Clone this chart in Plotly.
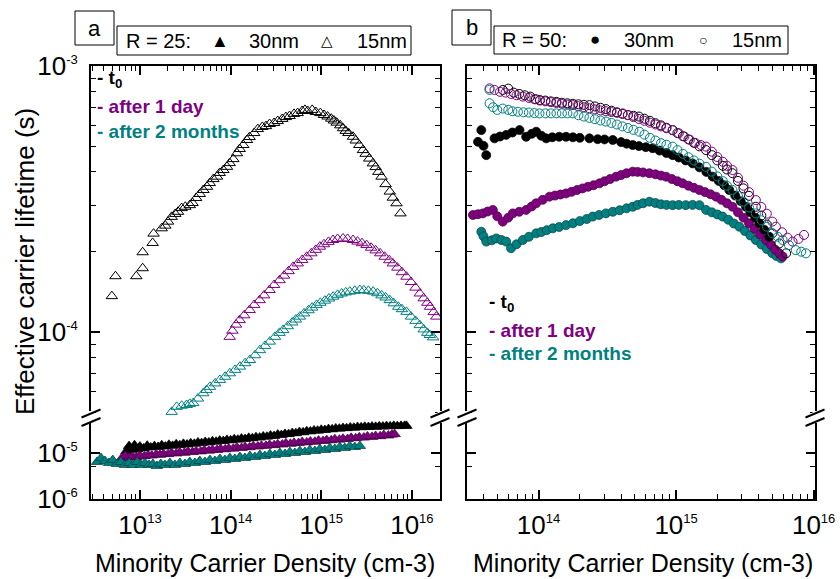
import numpy as np
import plotly.graph_objects as go

# ---------------- data: (log10 n [cm-3], log10 tau [s]) ----------------
# Panel a  (R = 25) -- 15 nm, open triangles
a15_t0 = [(12.69,-3.865),(12.73,-3.79),(12.96,-3.79),(13.03,-3.76),(13.03,-3.70),(13.14,-3.665),(13.15,-3.63),
          (13.24,-3.61),(13.28,-3.60),(13.31,-3.585),(13.35,-3.567),(13.39,-3.556),(13.42,-3.548),(13.46,-3.534),
          (13.50,-3.529),(13.55,-3.523),(13.58,-3.515),(13.62,-3.496),(13.66,-3.481),(13.70,-3.466),(13.74,-3.454),
          (13.77,-3.44),(13.81,-3.425),(13.85,-3.416),(13.88,-3.402),(13.92,-3.391),(13.96,-3.379),(13.99,-3.365),
          (14.03,-3.35),(14.07,-3.328),(14.10,-3.312),(14.14,-3.297),(14.18,-3.278),(14.21,-3.267),(14.26,-3.252),
          (14.30,-3.237),(14.35,-3.229),(14.39,-3.226),(14.43,-3.218),(14.48,-3.214),(14.52,-3.207),(14.57,-3.199),
          (14.61,-3.192),(14.65,-3.188),(14.70,-3.18),(14.74,-3.177),(14.79,-3.169),(14.82,-3.165),(14.85,-3.169),
          (14.90,-3.165),(14.94,-3.173),(14.99,-3.177),(15.03,-3.184),(15.07,-3.19),(15.11,-3.198),(15.14,-3.205),
          (15.17,-3.213),(15.21,-3.223),(15.24,-3.234),(15.27,-3.244),(15.30,-3.252),(15.35,-3.266),(15.38,-3.28),
          (15.42,-3.297),(15.46,-3.316),(15.49,-3.33),(15.53,-3.348),(15.57,-3.366),(15.60,-3.38),(15.63,-3.398),
          (15.665,-3.416),(15.71,-3.444),(15.756,-3.472),(15.79,-3.495),(15.83,-3.516),(15.874,-3.554)]
a15_1d = [(13.99,-4.018),(14.02,-3.995),(14.06,-3.972),(14.10,-3.955),(14.15,-3.937),(14.21,-3.917),(14.26,-3.898),
          (14.32,-3.88),(14.37,-3.862),(14.43,-3.842),(14.48,-3.823),(14.54,-3.805),(14.59,-3.788),(14.64,-3.771),
          (14.69,-3.755),(14.74,-3.742),(14.79,-3.729),(14.84,-3.717),(14.89,-3.704),(14.94,-3.691),(14.985,-3.679),
          (15.03,-3.67),(15.08,-3.661),(15.13,-3.654),(15.18,-3.65),(15.24,-3.648),(15.29,-3.65),(15.35,-3.654),
          (15.40,-3.66),(15.45,-3.666),(15.50,-3.673),(15.55,-3.683),(15.60,-3.693),(15.65,-3.704),(15.70,-3.717),
          (15.75,-3.73),(15.79,-3.742),(15.84,-3.758),(15.89,-3.775),(15.94,-3.792),(15.99,-3.812),(16.04,-3.833),
          (16.087,-3.855),(16.13,-3.873),(16.17,-3.89),(16.20,-3.905),(16.24,-3.925),(16.27,-3.942)]
a15_2m = [(13.35,-4.30),(13.37,-4.343),(13.405,-4.281),(13.46,-4.277),(13.515,-4.274),(13.55,-4.27),(13.588,-4.267),
          (13.64,-4.25),(13.698,-4.23),(13.735,-4.218),(13.772,-4.206),(13.83,-4.193),(13.882,-4.18),(13.94,-4.168),
          (13.992,-4.155),(14.05,-4.142),(14.103,-4.13),(14.16,-4.117),(14.213,-4.105),(14.27,-4.087),(14.323,-4.068),
          (14.38,-4.052),(14.433,-4.036),(14.49,-4.018),(14.54,-4.003),(14.58,-3.992),(14.63,-3.978),(14.68,-3.964),
          (14.72,-3.953),(14.764,-3.942),(14.81,-3.93),(14.86,-3.918),(14.90,-3.908),(14.948,-3.898),(14.99,-3.89),
          (15.04,-3.882),(15.085,-3.874),(15.131,-3.867),(15.18,-3.86),(15.225,-3.855),(15.27,-3.851),(15.315,-3.848),
          (15.37,-3.845),(15.426,-3.842),(15.47,-3.843),(15.52,-3.845),(15.572,-3.848),(15.62,-3.854),(15.665,-3.862),
          (15.71,-3.87),(15.756,-3.88),(15.80,-3.892),(15.85,-3.905),(15.89,-3.914),(15.94,-3.924),(15.99,-3.942),
          (16.04,-3.958),(16.087,-3.974),(16.13,-3.99),(16.17,-4.003),(16.197,-4.011),(16.234,-4.02)]
# Panel a  (R = 25) -- 30 nm, filled triangles (lower segment)
a30_t0 = [(12.85,-4.96),(12.88,-4.85),(12.91,-4.93),(12.94,-4.83),(12.97,-4.92),(13.00,-4.86),(13.04,-4.90),
          (13.08,-4.84),(13.12,-4.88),(13.16,-4.85),(13.20,-4.87),(13.24,-4.83),(13.28,-4.86),(13.32,-4.82),
          (13.36,-4.845),(13.40,-4.81),(13.44,-4.83),(13.48,-4.80),(13.52,-4.815),(13.56,-4.79),(13.60,-4.80),
          (13.64,-4.77),(13.68,-4.785),(13.72,-4.76),(13.76,-4.77),(13.80,-4.745),(13.84,-4.755),(13.88,-4.73),
          (13.92,-4.74),(13.96,-4.715),(14.00,-4.725),(14.04,-4.70),(14.08,-4.71),(14.12,-4.685),(14.16,-4.695),
          (14.20,-4.67),(14.24,-4.68),(14.28,-4.655),(14.32,-4.665),(14.36,-4.64),(14.40,-4.645),(14.44,-4.62),
          (14.48,-4.63),(14.52,-4.60),(14.56,-4.61),(14.60,-4.585),(14.64,-4.59),(14.68,-4.565),(14.72,-4.57),
          (14.76,-4.545),(14.80,-4.55),(14.84,-4.525),(14.88,-4.53),(14.92,-4.51),(14.96,-4.515),(15.00,-4.495),
          (15.04,-4.50),(15.08,-4.48),(15.12,-4.485),(15.16,-4.465),(15.20,-4.47),(15.24,-4.455),(15.28,-4.46),
          (15.32,-4.445),(15.36,-4.45),(15.40,-4.435),(15.44,-4.44),(15.48,-4.43),(15.52,-4.435),(15.56,-4.425),
          (15.60,-4.43),(15.64,-4.42),(15.68,-4.425),(15.72,-4.415),(15.76,-4.42),(15.80,-4.41),(15.84,-4.415),
          (15.88,-4.41),(15.92,-4.41),(15.94,-4.41)]
a30_1d = [(12.80,-5.11),(12.84,-5.06),(12.88,-5.10),(12.92,-5.08),(12.96,-5.09),(13.00,-5.06),(13.05,-5.07),
          (13.09,-5.05),(13.13,-5.055),(13.18,-5.03),(13.22,-5.04),(13.26,-5.02),(13.31,-5.025),(13.35,-5.0),
          (13.40,-5.01),(13.44,-4.99),(13.49,-4.995),(13.53,-4.97),(13.58,-4.98),(13.62,-4.96),(13.67,-4.965),
          (13.71,-4.94),(13.76,-4.95),(13.80,-4.93),(13.85,-4.935),(13.89,-4.91),(13.94,-4.92),(13.98,-4.90),
          (14.03,-4.905),(14.07,-4.88),(14.12,-4.89),(14.16,-4.87),(14.21,-4.875),(14.25,-4.85),(14.30,-4.86),
          (14.34,-4.84),(14.39,-4.845),(14.43,-4.82),(14.48,-4.83),(14.52,-4.81),(14.57,-4.815),(14.61,-4.79),
          (14.66,-4.80),(14.70,-4.78),(14.75,-4.785),(14.79,-4.76),(14.84,-4.77),(14.88,-4.75),(14.93,-4.755),
          (14.97,-4.73),(15.02,-4.74),(15.06,-4.72),(15.11,-4.725),(15.15,-4.70),(15.20,-4.71),(15.24,-4.69),
          (15.29,-4.695),(15.33,-4.67),(15.38,-4.68),(15.42,-4.66),(15.47,-4.665),(15.51,-4.64),(15.56,-4.65),
          (15.60,-4.63),(15.65,-4.635),(15.69,-4.61),(15.74,-4.62),(15.78,-4.60),(15.81,-4.59)]
a30_2m = [(12.526,-5.196),(12.57,-5.109),(12.614,-5.174),(12.658,-5.217),(12.70,-5.152),(12.746,-5.239),
          (12.79,-5.196),(12.835,-5.26),(12.88,-5.217),(12.92,-5.26),(12.97,-5.196),(13.01,-5.26),(13.055,-5.217),
          (13.10,-5.26),(13.143,-5.239),(13.187,-5.283),(13.23,-5.239),(13.276,-5.26),(13.33,-5.217),(13.386,-5.26),
          (13.44,-5.217),(13.496,-5.239),(13.55,-5.196),(13.606,-5.217),(13.66,-5.174),(13.717,-5.196),(13.772,-5.152),
          (13.827,-5.174),(13.882,-5.13),(13.937,-5.152),(13.992,-5.109),(14.047,-5.13),(14.103,-5.087),(14.158,-5.109),
          (14.213,-5.065),(14.268,-5.087),(14.323,-5.043),(14.378,-5.065),(14.433,-5.022),(14.488,-5.043),(14.544,-5.0),
          (14.60,-5.022),(14.654,-4.978),(14.709,-5.0),(14.764,-4.957),(14.82,-4.978),(14.874,-4.935),(14.93,-4.957),
          (14.985,-4.913),(15.04,-4.935),(15.095,-4.891),(15.15,-4.913),(15.205,-4.87),(15.26,-4.891),(15.315,-4.848),
          (15.37,-4.87),(15.426,-4.848)]
# Panel b  (R = 50) -- 30 nm, filled circles
b30_t0 = [(13.584,-3.241),(13.56,-3.285),(13.62,-3.335),(13.60,-3.30),(13.68,-3.272),(13.72,-3.265),(13.765,-3.259),
          (13.81,-3.25),(13.862,-3.241),(13.91,-3.266),(13.95,-3.255),(13.983,-3.247),(14.02,-3.262),(14.056,-3.272),
          (14.10,-3.268),(14.15,-3.266),(14.20,-3.266),(14.25,-3.268),(14.30,-3.27),(14.37,-3.272),(14.43,-3.275),
          (14.48,-3.276),(14.54,-3.278),(14.60,-3.286),(14.64,-3.292),(14.685,-3.297),(14.73,-3.301),(14.78,-3.305),
          (14.83,-3.309),(14.88,-3.318),(14.93,-3.327),(14.975,-3.335),(15.02,-3.344),(15.07,-3.355),(15.12,-3.366),
          (15.17,-3.381),(15.22,-3.398),(15.266,-3.416),(15.31,-3.432),(15.35,-3.448),(15.387,-3.466),(15.43,-3.487),
          (15.47,-3.508),(15.508,-3.529),(15.54,-3.55),(15.575,-3.57),(15.605,-3.591),(15.64,-3.615),(15.678,-3.642)]
b30_1d = [(13.523,-3.56),(13.56,-3.557),(13.595,-3.554),(13.63,-3.547),(13.668,-3.541),(13.70,-3.565),(13.74,-3.585),
          (13.78,-3.57),(13.813,-3.554),(13.86,-3.548),(13.91,-3.541),(13.95,-3.528),(13.983,-3.516),(14.03,-3.503),
          (14.08,-3.491),(14.12,-3.487),(14.16,-3.483),(14.20,-3.479),(14.24,-3.473),(14.28,-3.466),(14.32,-3.46),
          (14.36,-3.454),(14.40,-3.448),(14.443,-3.441),(14.48,-3.433),(14.52,-3.425),(14.564,-3.416),(14.60,-3.41),
          (14.64,-3.403),(14.685,-3.397),(14.72,-3.398),(14.76,-3.40),(14.806,-3.403),(14.85,-3.407),(14.89,-3.412),
          (14.927,-3.416),(14.97,-3.425),(15.01,-3.433),(15.048,-3.441),(15.09,-3.45),(15.13,-3.458),(15.17,-3.466),
          (15.21,-3.474),(15.25,-3.482),(15.29,-3.491),(15.33,-3.503),(15.37,-3.516),(15.41,-3.529),(15.45,-3.55),
          (15.49,-3.57),(15.53,-3.591),(15.57,-3.612),(15.61,-3.633),(15.654,-3.654),(15.69,-3.672),(15.72,-3.69),
          (15.75,-3.704),(15.775,-3.716)]
b30_2m = [(13.584,-3.623),(13.60,-3.64),(13.62,-3.66),(13.66,-3.655),(13.693,-3.648),(13.73,-3.654),(13.765,-3.66),
          (13.80,-3.685),(13.84,-3.67),(13.886,-3.654),(13.93,-3.642),(13.983,-3.629),(14.02,-3.624),(14.06,-3.617),
          (14.104,-3.61),(14.15,-3.605),(14.20,-3.598),(14.25,-3.591),(14.30,-3.583),(14.35,-3.575),(14.394,-3.566),
          (14.44,-3.56),(14.49,-3.554),(14.54,-3.548),(14.59,-3.542),(14.64,-3.535),(14.685,-3.529),(14.72,-3.522),
          (14.76,-3.516),(14.806,-3.51),(14.85,-3.515),(14.89,-3.52),(14.93,-3.522),(14.975,-3.523),(15.02,-3.522),
          (15.07,-3.523),(15.12,-3.522),(15.17,-3.523),(15.218,-3.541),(15.26,-3.55),(15.30,-3.558),(15.338,-3.566),
          (15.38,-3.578),(15.42,-3.592),(15.46,-3.604),(15.50,-3.62),(15.54,-3.637),(15.58,-3.654),(15.62,-3.671),
          (15.66,-3.688),(15.70,-3.704),(15.73,-3.714),(15.763,-3.723)]
# Panel b  (R = 50) -- 15 nm, open circles
b15_t0 = [(13.74,-3.09),(13.78,-3.085),(13.82,-3.10),(13.86,-3.105),(13.90,-3.11),(13.94,-3.115),(13.98,-3.125),
          (14.01,-3.128),(14.05,-3.13),(14.09,-3.133),(14.13,-3.135),(14.17,-3.138),(14.21,-3.14),(14.25,-3.142),
          (14.29,-3.144),(14.33,-3.146),(14.37,-3.147),(14.41,-3.152),(14.45,-3.157),(14.49,-3.162),(14.53,-3.168),
          (14.57,-3.174),(14.61,-3.18),(14.65,-3.184),(14.69,-3.187),(14.73,-3.19),(14.77,-3.198),(14.81,-3.206),
          (14.85,-3.215),(14.89,-3.223),(14.93,-3.232),(14.975,-3.241),(15.01,-3.252),(15.05,-3.264),(15.09,-3.276),
          (15.13,-3.289),(15.17,-3.302),(15.218,-3.316),(15.26,-3.335),(15.30,-3.355),(15.34,-3.375),(15.37,-3.389),
          (15.41,-3.403),(15.45,-3.432),(15.49,-3.46),(15.53,-3.488),(15.58,-3.529),(15.62,-3.562),(15.66,-3.596),
          (15.70,-3.629),(15.75,-3.667),(15.80,-3.704)]
b15_1d = [(13.644,-3.084),(13.68,-3.09),(13.72,-3.097),(13.76,-3.10),(13.80,-3.105),(13.84,-3.11),(13.886,-3.115),
          (13.93,-3.12),(13.97,-3.125),(14.01,-3.13),(14.05,-3.133),(14.09,-3.136),(14.13,-3.139),(14.17,-3.142),
          (14.21,-3.145),(14.25,-3.147),(14.29,-3.151),(14.33,-3.155),(14.37,-3.159),(14.41,-3.163),(14.45,-3.167),
          (14.49,-3.17),(14.53,-3.173),(14.57,-3.176),(14.612,-3.178),(14.65,-3.185),(14.69,-3.192),(14.73,-3.199),
          (14.77,-3.206),(14.81,-3.213),(14.85,-3.22),(14.89,-3.227),(14.93,-3.234),(14.975,-3.241),(15.02,-3.253),
          (15.06,-3.265),(15.10,-3.277),(15.14,-3.289),(15.18,-3.297),(15.218,-3.303),(15.26,-3.322),(15.30,-3.342),
          (15.34,-3.36),(15.37,-3.375),(15.41,-3.391),(15.45,-3.42),(15.49,-3.45),(15.53,-3.474),(15.58,-3.504),
          (15.62,-3.53),(15.66,-3.555),(15.70,-3.585),(15.726,-3.604),(15.77,-3.625),(15.81,-3.645),(15.847,-3.66),
          (15.89,-3.65),(15.93,-3.635)]
b15_2m = [(13.644,-3.09),(13.644,-3.14),(13.67,-3.155),(13.70,-3.165),(13.74,-3.16),(13.78,-3.165),(13.81,-3.17),
          (13.85,-3.172),(13.89,-3.174),(13.93,-3.175),(13.97,-3.177),(14.007,-3.178),(14.05,-3.178),(14.09,-3.178),
          (14.13,-3.178),(14.17,-3.178),(14.21,-3.178),(14.25,-3.178),(14.29,-3.185),(14.33,-3.19),(14.37,-3.195),
          (14.41,-3.20),(14.45,-3.205),(14.49,-3.209),(14.53,-3.214),(14.57,-3.22),(14.61,-3.227),(14.65,-3.233),
          (14.69,-3.24),(14.733,-3.247),(14.77,-3.258),(14.81,-3.27),(14.85,-3.28),(14.89,-3.29),(14.93,-3.296),
          (14.975,-3.303),(15.01,-3.316),(15.05,-3.33),(15.09,-3.343),(15.13,-3.355),(15.17,-3.367),(15.218,-3.379),
          (15.26,-3.397),(15.30,-3.415),(15.34,-3.433),(15.37,-3.45),(15.41,-3.466),(15.45,-3.488),(15.49,-3.51),
          (15.53,-3.532),(15.58,-3.554),(15.62,-3.58),(15.66,-3.604),(15.70,-3.629),(15.74,-3.642),(15.775,-3.654),
          (15.82,-3.673),(15.87,-3.692),(15.91,-3.698),(15.944,-3.704)]

# tick values / exponents of the labels
x_ticks_a = [1e13, 1e14, 1e15, 1e16]
x_exp_a = ['13', '14', '15', '16']
x_ticks_b = [1e14, 1e15, 1e16]
x_exp_b = ['14', '15', '16']
y_ticks_up = [1e-4, 1e-3]
y_exp_up = ['-4', '-3']
y_ticks_lo = [1e-6, 1e-5]
y_exp_lo = ['-6', '-5']

# ---------------- styling / layout ----------------
W, H = 840, 579
def fx(p): return p / W
def fy(p): return 1 - p / H

FONT = 'Liberation Sans, Arial, sans-serif'
BLACK, PURPLE, TEAL = '#000000', '#800080', '#008080'
DARK = {BLACK: '#000000', PURPLE: '#3d003d', TEAL: '#003d3d'}

XA = (91, 440)
XB = (467, 815)
Y_TOP, Y_BRK, Y_BOT = 66, 418, 499
UP_RANGE = [-4.323, -3.0]
LO_RANGE = [-6.0, -4.239]
XA_RANGE = [12.46, 16.31]
XB_RANGE = [13.48, 16.01]

def pow_labels(exps):
    return ['10<sup><span style="font-size:13px">' + e + '</span></sup>' for e in exps]

def xy(pairs):
    arr = np.array(pairs, dtype=float)
    return 10 ** arr[:, 0], 10 ** arr[:, 1]

fig = go.Figure()

def add(pairs, xa, ya, color, kind):
    x, y = xy(pairs)
    if kind == 'tri_open':
        m = dict(symbol='triangle-up-open', size=10, color=color, line=dict(width=1, color=color))
    elif kind == 'tri':
        m = dict(symbol='triangle-up', size=10, color=color, line=dict(width=0.7, color=DARK[color]))
    elif kind == 'circ':
        m = dict(symbol='circle', size=9, color=color, line=dict(width=0.7, color=DARK[color]))
    else:
        m = dict(symbol='circle-open', size=9, color=color, line=dict(width=1, color=color))
    fig.add_trace(go.Scatter(x=x, y=y, mode='markers', marker=m, xaxis=xa, yaxis=ya,
                             showlegend=False, hoverinfo='skip'))

# panel a
add(a30_t0, 'x', 'y2', BLACK, 'tri')
add(a30_1d, 'x', 'y2', PURPLE, 'tri')
add(a30_2m, 'x', 'y2', TEAL, 'tri')
add(a15_t0, 'x2', 'y', BLACK, 'tri_open')
add(a15_1d, 'x2', 'y', PURPLE, 'tri_open')
add(a15_2m, 'x2', 'y', TEAL, 'tri_open')
# panel b (all data lie in the upper segment; the lower segment is empty)
fig.add_trace(go.Scatter(x=[], y=[], mode='markers', xaxis='x3', yaxis='y4', showlegend=False,
                         hoverinfo='skip'))
add(b30_2m, 'x4', 'y3', TEAL, 'circ')
add(b30_1d, 'x4', 'y3', PURPLE, 'circ')
add(b30_t0, 'x4', 'y3', BLACK, 'circ')
add(b15_t0, 'x4', 'y3', BLACK, 'circ_open')
add(b15_1d, 'x4', 'y3', PURPLE, 'circ_open')
add(b15_2m, 'x4', 'y3', TEAL, 'circ_open')

def minor_log(lo, hi):
    return [m * 10.0 ** d for d in range(lo, hi) for m in range(2, 10)]

base = dict(type='log', showline=True, linecolor='black', linewidth=2, ticks='inside', ticklen=9,
            tickwidth=1.5, tickcolor='black', showgrid=False, zeroline=False, automargin=False,
            tickfont=dict(family=FONT, size=26, color='black'))
minor_style = dict(ticks='inside', ticklen=5, tickwidth=1.2, tickcolor='black', showgrid=False)

up_dom = [fy(Y_BRK), fy(Y_TOP)]
lo_dom = [fy(Y_BOT), fy(Y_BRK)]

fig.update_layout(
    template='none',
    width=W, height=H, margin=dict(l=0, r=0, t=0, b=0, pad=0), autosize=False,
    paper_bgcolor='white', plot_bgcolor='white', showlegend=False,
    xaxis=dict(base, domain=[fx(XA[0]), fx(XA[1])], anchor='y2', range=XA_RANGE,
               tickmode='array', tickvals=x_ticks_a, ticktext=pow_labels(x_exp_a), ticklabelstandoff=2,
               minor=dict(minor_style, tickvals=minor_log(12, 17))),
    xaxis2=dict(base, domain=[fx(XA[0]), fx(XA[1])], anchor='y', side='top', range=XA_RANGE,
                tickmode='array', tickvals=x_ticks_a, showticklabels=False,
                minor=dict(minor_style, tickvals=minor_log(12, 17))),
    yaxis=dict(base, domain=up_dom, anchor='x2', range=UP_RANGE, mirror='ticks',
               tickmode='array', tickvals=y_ticks_up, ticktext=pow_labels(y_exp_up), ticklabelstandoff=6,
               minor=dict(minor_style, tickvals=minor_log(-5, -3))),
    yaxis2=dict(base, domain=lo_dom, anchor='x', range=LO_RANGE, mirror='ticks',
                tickmode='array', tickvals=y_ticks_lo, ticktext=pow_labels(y_exp_lo), ticklabelstandoff=6,
                minor=dict(minor_style, tickvals=[5e-6])),
    xaxis3=dict(base, domain=[fx(XB[0]), fx(XB[1])], anchor='y4', range=XB_RANGE,
                tickmode='array', tickvals=x_ticks_b, ticktext=pow_labels(x_exp_b), ticklabelstandoff=2,
                minor=dict(minor_style, tickvals=minor_log(13, 17))),
    xaxis4=dict(base, domain=[fx(XB[0]), fx(XB[1])], anchor='y3', side='top', range=XB_RANGE,
                tickmode='array', tickvals=x_ticks_b, showticklabels=False,
                minor=dict(minor_style, tickvals=minor_log(13, 17))),
    yaxis3=dict(base, domain=up_dom, anchor='x4', range=UP_RANGE, mirror='ticks',
                tickmode='array', tickvals=y_ticks_up, showticklabels=False,
                minor=dict(minor_style, tickvals=minor_log(-5, -3))),
    yaxis4=dict(base, domain=lo_dom, anchor='x3', range=LO_RANGE, mirror='ticks',
                tickmode='array', tickvals=y_ticks_lo, showticklabels=False,
                minor=dict(minor_style, tickvals=[5e-6])),
)

shapes = []
annotations = []

def line(x0, y0, x1, y1, color='black', width=2):
    shapes.append(dict(type='line', xref='paper', yref='paper', x0=fx(x0), y0=fy(y0), x1=fx(x1), y1=fy(y1),
                       line=dict(color=color, width=width), layer='above'))

def rect(x0, y0, x1, y1, width=1):
    shapes.append(dict(type='rect', xref='paper', yref='paper', x0=fx(x0), y0=fy(y0), x1=fx(x1), y1=fy(y1),
                       line=dict(color='black', width=width), fillcolor='rgba(0,0,0,0)', layer='above'))

def text(x, y, s, size, color='black', xanchor='left', bold=False, angle=0):
    if bold:
        s = '<b>' + s + '</b>'
    annotations.append(dict(x=fx(x), y=fy(y), xref='paper', yref='paper', text=s, showarrow=False,
                            xanchor=xanchor, yanchor='middle', textangle=angle,
                            font=dict(family=FONT, size=size, color=color)))

# axis break marks
for xc in (XA[0], XA[1], XB[0], XB[1]):
    line(xc, 411, xc, 423, color='white', width=5)
    line(xc - 9.5, 417.5, xc + 9.5, 409.5, width=2)
    line(xc - 9.5, 426, xc + 9.5, 418, width=2)

# panel letters and header boxes
rect(75, 11, 114, 45)
text(94.5, 28.5, 'a', 22, xanchor='center')
rect(452, 10, 491, 45)
text(471.5, 27.5, 'b', 22, xanchor='center')

rect(117, 26, 411, 55)
text(124, 41, 'R = 25:', 20)
text(220, 41, '\u25B2', 18, xanchor='center')
text(247, 41, '30nm', 20)
text(327, 41, '\u25B3', 15, xanchor='center')
text(355, 41, '15nm', 20)

rect(494, 26, 788, 54)
text(500, 40, 'R = 50:', 20)
text(595, 40, '\u25CF', 17, xanchor='center')
text(622, 40, '30nm', 20)
text(703, 40, '\u25CB', 14, xanchor='center')
text(730, 40, '15nm', 20)

# in-plot state labels
for (x0, ys) in ((95, (79, 106, 131)), (487, (303, 330, 353))):
    text(x0, ys[0], '- t<sub>0</sub>', 19, BLACK, bold=True)
    text(x0, ys[1], '- after 1 day', 19, PURPLE, bold=True)
    text(x0, ys[2], '- after 2 months', 19, TEAL, bold=True)

# axis titles
text(25, 262, 'Effective carrier lifetime (s)', 26, xanchor='center', angle=-90)
text(265, 563, 'Minority Carrier Density (cm-3)', 25, xanchor='center')
text(643, 563, 'Minority Carrier Density (cm-3)', 25, xanchor='center')

fig.update_layout(shapes=shapes, annotations=annotations)
# the page body has a default 8px margin; remove it so the 840x579 figure fills the window exactly
fig.write_html('out.html', config={'displayModeBar': False},
               post_script="document.body.style.margin='0px';")
